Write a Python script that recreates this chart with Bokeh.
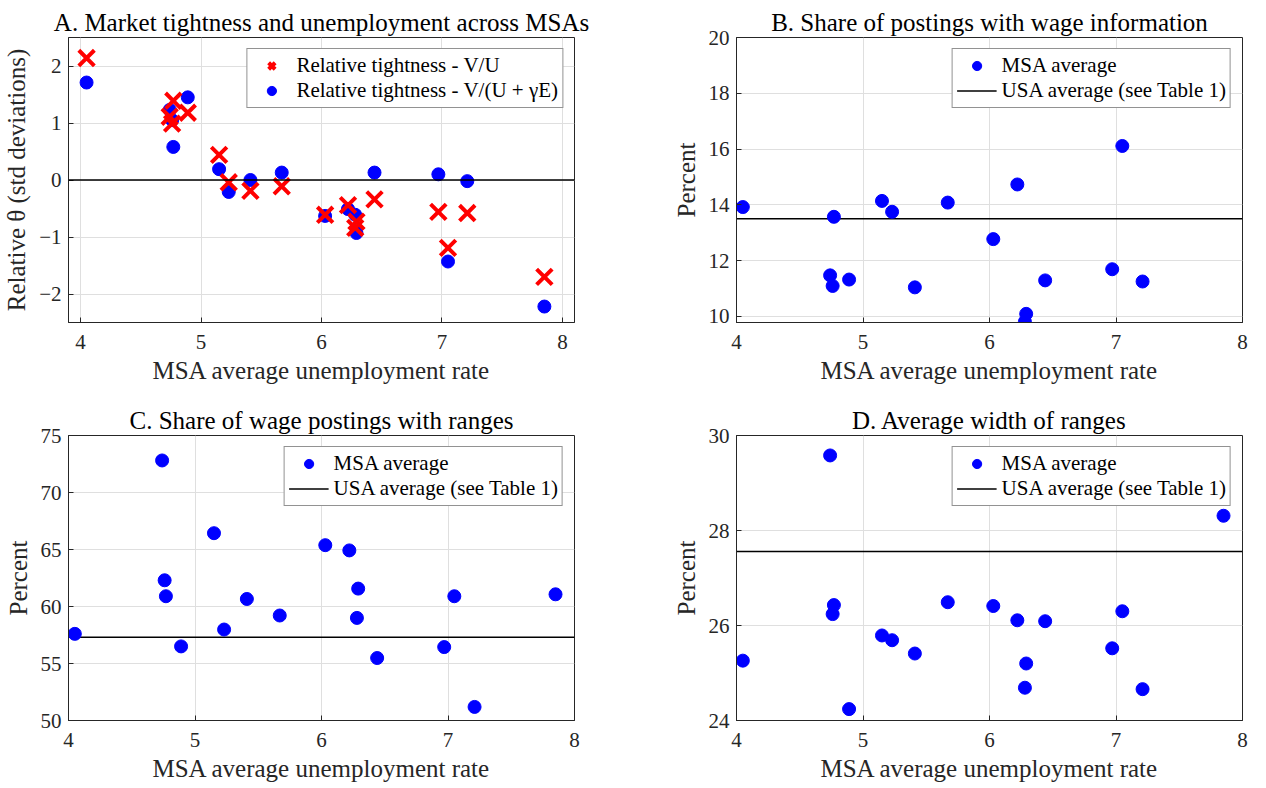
import math
from bokeh.plotting import figure
from bokeh.models import Range1d, FixedTicker, Legend, LegendItem, Span
from bokeh.layouts import column, row
from bokeh.embed import file_html
from bokeh.resources import INLINE

# ---------------- data ----------------
msa_unemp = [4.05, 4.74, 4.76, 4.77, 4.89, 5.15, 5.23, 5.41, 5.67, 6.03,
             6.22, 6.28, 6.29, 6.44, 6.97, 7.05, 7.21, 7.85]
tight_vu = [2.14, 1.11, 0.99, 1.39, 1.18, 0.44, -0.04, -0.19, -0.11, -0.61,
            -0.44, -0.84, -0.73, -0.34, -0.56, -1.19, -0.58, -1.70]
tight_vue = [1.71, 1.23, 1.05, 0.58, 1.45, 0.19, -0.21, 0.00, 0.13, -0.63,
             -0.51, -0.61, -0.93, 0.13, 0.10, -1.43, -0.02, -2.22]
share_wage = [13.92, 11.47, 11.09, 13.57, 11.32, 14.14, 13.75, 11.04, 14.08, 12.77,
              14.73, 9.81, 10.09, 11.29, 11.69, 16.11, 11.25, math.nan]
share_range = [57.60, 72.81, 62.30, 60.90, 56.50, 66.43, 57.98, 60.66, 59.21, 65.38,
               64.92, 59.00, 61.57, 55.48, 56.44, 60.90, 51.19, 61.07]
width_range = [25.26, 29.58, 26.24, 26.43, 24.24, 25.79, 25.69, 25.41, 26.49, 26.41,
               26.11, 24.69, 25.20, 26.09, 25.52, 26.30, 24.66, 28.31]
usa_share_wage = 13.50
usa_share_range = 57.31
usa_width_range = 27.56

x_ticks = [4, 5, 6, 7, 8]
a_yticks = [-2, -1, 0, 1, 2]
b_yticks = [10, 12, 14, 16, 18, 20]
c_yticks = [50, 55, 60, 65, 70, 75]
d_yticks = [24, 26, 28, 30]

titles = ["A. Market tightness and unemployment across MSAs",
          "B. Share of postings with wage information",
          "C. Share of wage postings with ranges",
          "D. Average width of ranges"]
xlabel = "MSA average unemployment rate"
ylabel_a = "Relative θ (std deviations)"
ylabel_pct = "Percent"
lab_vu = "Relative tightness - V/U"
lab_vue = "Relative tightness - V/(U + γE)"
lab_msa = "MSA average"
lab_usa = "USA average (see Table 1)"

FONT = "'Liberation Serif', 'Times New Roman', 'DejaVu Serif', serif"
AX = "#262626"
GRID = "#dfdfdf"
BLUE = "#0000ff"
RED = "#ff0000"


def make_fig(title, xr, yr, xt, yt, ylab, width, height, bl, br, bt, bb):
    p = figure(width=width, height=height, output_backend="svg", toolbar_location=None,
               x_range=Range1d(*xr), y_range=Range1d(*yr),
               min_border_left=bl, min_border_right=br, min_border_top=bt, min_border_bottom=bb,
               background_fill_color="white", border_fill_color="white")
    p.title.text = title
    p.title.text_font = FONT
    p.title.text_font_size = "25px"
    p.title.text_font_style = "normal"
    p.title.text_color = "black"
    p.title.align = "center"
    p.title.standoff = 4
    p.outline_line_color = AX
    p.outline_line_width = 1
    for ax, ticks in ((p.xaxis[0], xt), (p.yaxis[0], yt)):
        ax.ticker = FixedTicker(ticks=ticks)
        ax.major_label_text_font = FONT
        ax.major_label_text_font_size = "21px"
        ax.major_label_text_color = AX
        ax.axis_label_text_font = FONT
        ax.axis_label_text_font_size = "25px"
        ax.axis_label_text_font_style = "normal"
        ax.axis_label_text_color = AX
        ax.axis_line_color = AX
        ax.major_tick_line_color = AX
        ax.major_tick_in = 5
        ax.major_tick_out = 0
        ax.minor_tick_line_color = None
    p.xaxis[0].axis_label = xlabel
    p.xaxis[0].major_label_standoff = 12
    p.xaxis[0].axis_label_standoff = 5
    p.yaxis[0].axis_label = ylab
    p.yaxis[0].major_label_standoff = 7
    p.yaxis[0].axis_label_standoff = 6
    p.xgrid.ticker = FixedTicker(ticks=xt)
    p.ygrid.ticker = FixedTicker(ticks=yt)
    for g in (p.xgrid[0], p.ygrid[0]):
        g.grid_line_color = GRID
        g.grid_line_width = 1
    return p


def style_legend(leg):
    leg.location = "top_right"
    leg.margin = 11
    leg.padding = 4
    leg.spacing = 0
    leg.label_text_font = FONT
    leg.label_text_font_size = "21px"
    leg.label_text_color = "black"
    leg.label_height = 23
    leg.glyph_height = 23
    leg.glyph_width = 40
    leg.label_standoff = 5
    leg.border_line_color = AX
    leg.border_line_width = 1
    leg.background_fill_color = "white"
    leg.background_fill_alpha = 1.0


# ---------------- panel A ----------------
pA = make_fig(titles[0], (3.9, 8.1), (-2.5, 2.5), x_ticks, a_yticks, ylabel_a,
              624, 394, 68, 50, 37, 72)
pA.add_layout(Span(location=0, dimension="width", line_color="black", line_width=1.5))
rb = pA.scatter(msa_unemp, tight_vue, marker="circle", size=13, fill_color=BLUE, line_color=BLUE)
rr = pA.scatter(msa_unemp, tight_vu, marker="x", size=22, line_color=RED, line_width=4)
legA = Legend(items=[LegendItem(label=lab_vu, renderers=[rr]),
                     LegendItem(label=lab_vue, renderers=[rb])])
style_legend(legA)
pA.add_layout(legA, "center")


def pct_panel(title, yr, yt, values, usa, width, height, bl, br, bt, bb):
    p = make_fig(title, (4, 8), yr, x_ticks, yt, ylabel_pct, width, height, bl, br, bt, bb)
    rl = p.line([x_ticks[0], x_ticks[-1]], [usa, usa], line_color="black", line_width=1.5)
    rs = p.scatter(msa_unemp, values, marker="circle", size=13, fill_color=BLUE, line_color=BLUE)
    leg = Legend(items=[LegendItem(label=lab_msa, renderers=[rs]),
                        LegendItem(label=lab_usa, renderers=[rl])])
    style_legend(leg)
    p.add_layout(leg, "center")
    return p


pB = pct_panel(titles[1], (9.78, 20), b_yticks, share_wage, usa_share_wage,
               626, 394, 112, 8, 37, 72)
pC = pct_panel(titles[2], (50, 75), c_yticks, share_range, usa_share_range,
               624, 390, 68, 50, 41, 50)
pD = pct_panel(titles[3], (24, 30), d_yticks, width_range, usa_width_range,
               626, 390, 112, 8, 41, 50)

layout = column(row(pA, pB), row(pC, pD))
open("out.html", "w").write(file_html(layout, INLINE))
